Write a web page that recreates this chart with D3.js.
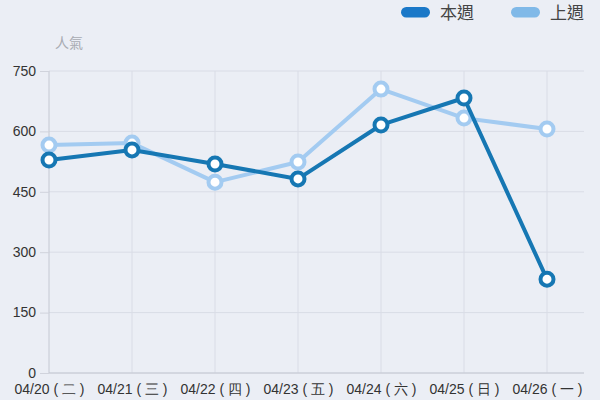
<!DOCTYPE html>
<html><head><meta charset="utf-8">
<script src="https://cdn.jsdelivr.net/npm/d3@7"></script>
<style>
html,body{margin:0;padding:0;background:#ebeef5;}
svg{display:block;font-family:"Liberation Sans","Noto Sans CJK TC",sans-serif;}
</style></head><body>
<svg id="c" width="600" height="400"></svg>
<script>
const categories = ["04/20 ( 二 )","04/21 ( 三 )","04/22 ( 四 )","04/23 ( 五 )","04/24 ( 六 )","04/25 ( 日 )","04/26 ( 一 )"];
const thisWeek = [529, 554, 519, 482, 616, 683, 233];
const lastWeek = [566, 571, 474, 524, 705, 633, 606];
const yTicks = [0,150,300,450,600,750];
const seriesNames = ["本週","上週"];

(function(){
const svg = d3.select("#c");
const W=600,H=400;
svg.append("rect").attr("width",W).attr("height",H).attr("fill","#ebeef5");
const mL=49, mR=584, mT=71, mB=373;
const x = d3.scalePoint().domain(categories).range([mL, 547]);
const y = d3.scaleLinear().domain([0,750]).range([mB, mT]);

// grid
svg.append("g").selectAll("line").data(yTicks).join("line")
  .attr("x1",mL).attr("x2",mR).attr("y1",d=>y(d)).attr("y2",d=>y(d))
  .attr("stroke","#d9dce6").attr("stroke-width",1);
svg.append("g").selectAll("line").data(categories.slice(1)).join("line")
  .attr("x1",d=>x(d)).attr("x2",d=>x(d)).attr("y1",mT).attr("y2",mB)
  .attr("stroke","#d9dce6").attr("stroke-width",1);

// y axis
const yAxis = d3.axisLeft(y).tickValues(yTicks).tickSize(9).tickPadding(4);
const gy = svg.append("g").attr("transform",`translate(${mL},0)`).call(yAxis);
gy.select(".domain").attr("stroke","#c4c8d2").attr("d",`M0,${mT}V${mB}`);
gy.selectAll(".tick line").attr("stroke","#d0d3dc");
gy.selectAll("text").attr("fill","#333").attr("font-size",14).attr("dy","0.3em");

// x axis
const xAxis = d3.axisBottom(x).tickSize(0).tickPadding(6);
const gx = svg.append("g").attr("transform",`translate(0,${mB})`).call(xAxis);
gx.select(".domain").attr("stroke","#c4c8d2").attr("d",`M${mL},0H${mR}`);
gx.selectAll("text").attr("fill","#333").attr("font-size",14).attr("y",21).attr("dy",0);

// axis title
svg.append("text").attr("x",55).attr("y",48).attr("fill","#a8abb2").attr("font-size",14).text("人氣");

const line = d3.line().x((d,i)=>x(categories[i])).y(d=>y(d));
function drawSeries(data, color){
  svg.append("path").datum(data).attr("d",line).attr("fill","none")
    .attr("stroke",color).attr("stroke-width",4).attr("stroke-linejoin","round");
  svg.append("g").selectAll("circle").data(data).join("circle")
    .attr("cx",(d,i)=>x(categories[i])).attr("cy",d=>y(d)).attr("r",6.5)
    .attr("fill","#fff").attr("stroke",color).attr("stroke-width",4);
}
drawSeries(lastWeek, "#a3cbf1");
drawSeries(thisWeek, "#1677b3");

// legend
const legend = [{name:seriesNames[0],color:"#1a78c8",x:401},{name:seriesNames[1],color:"#80b9e8",x:511}];
const lg = svg.append("g");
legend.forEach(l=>{
  lg.append("rect").attr("x",l.x).attr("y",7).attr("width",29).attr("height",10.5).attr("rx",5.25)
    .attr("fill",l.color);
  lg.append("text").attr("x",l.x+39).attr("y",19).attr("font-size",17).attr("fill","#444").text(l.name);
});
})();
</script>
</body></html>
